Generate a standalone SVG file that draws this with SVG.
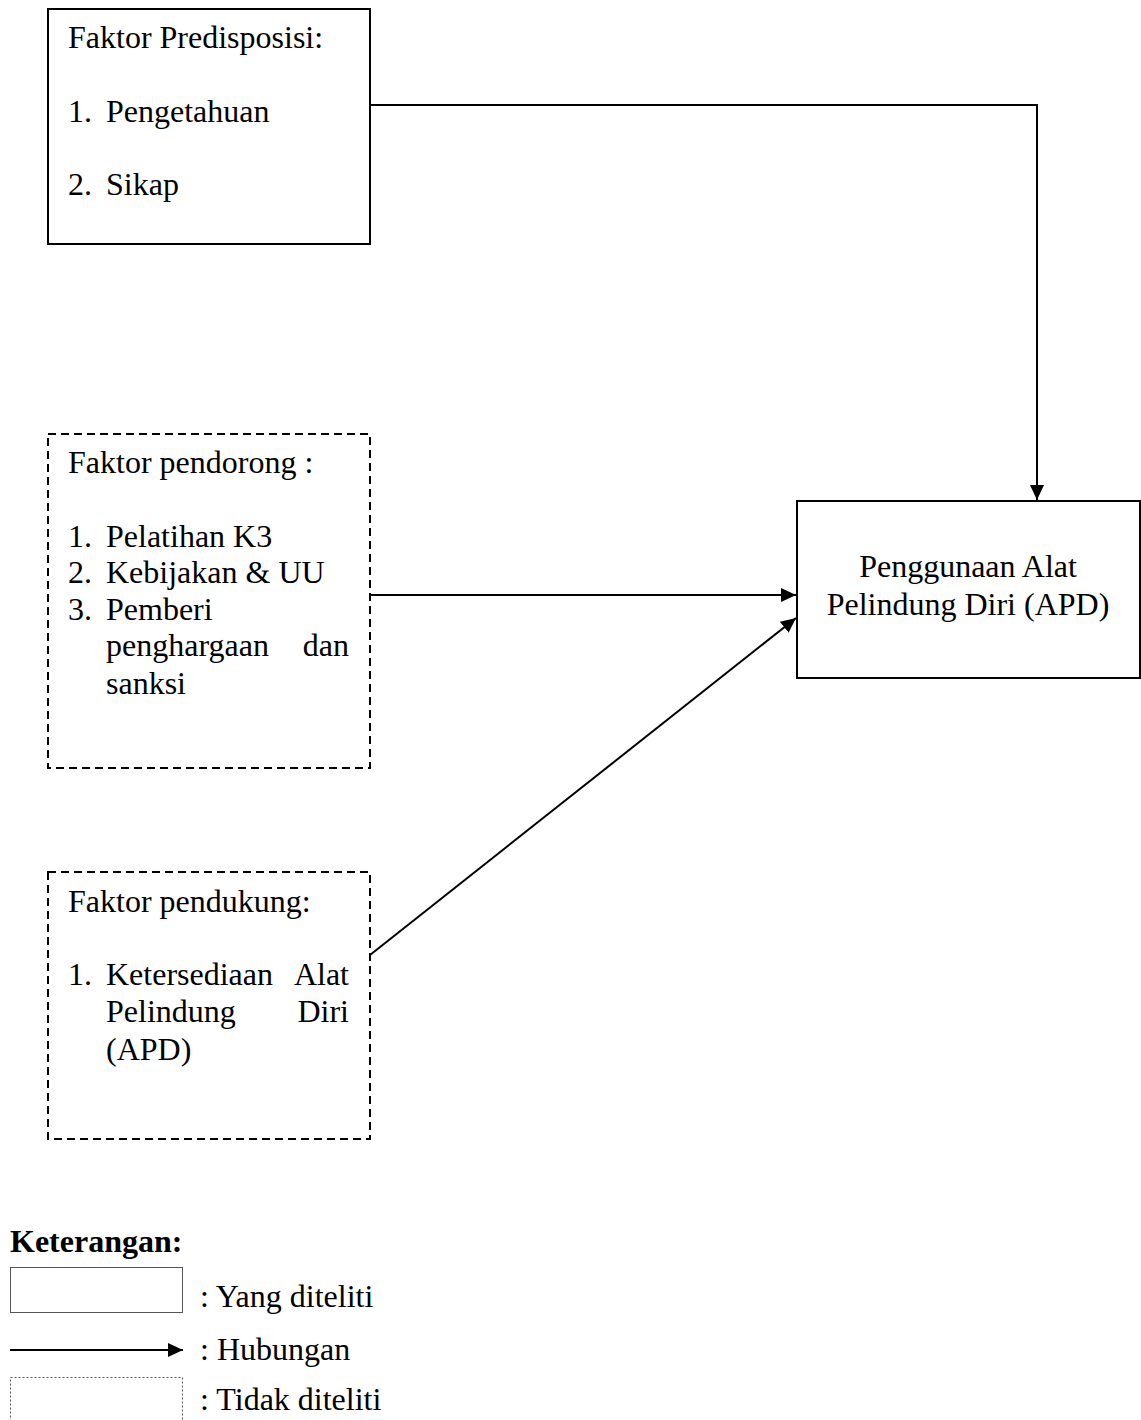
<svg xmlns="http://www.w3.org/2000/svg" width="1141" height="1420" viewBox="0 0 1141 1420">
<style>
text{font-family:"Liberation Serif","Times New Roman",serif;font-size:32px;fill:#000}
.solid{fill:#fff;stroke:#000;stroke-width:2}
.dash{fill:#fff;stroke:#000;stroke-width:2;stroke-dasharray:8,5}
.conn{fill:none;stroke:#000;stroke-width:2}
.end{text-anchor:end}
</style>
<defs>
<marker id="arr" markerUnits="userSpaceOnUse" markerWidth="16" markerHeight="14" refX="15" refY="7" orient="auto">
<path d="M0,0 L15,7 L0,14 z" fill="#000"/>
</marker>
</defs>
<rect width="1141" height="1420" fill="#fff"/>
<g id="node-predisposisi">
<rect class="solid" x="48" y="9" width="322" height="235"/>
<text x="68" y="48">Faktor Predisposisi:</text>
<text x="68" y="122">1.</text><text x="106" y="122">Pengetahuan</text>
<text x="68" y="195">2.</text><text x="106" y="195">Sikap</text>
</g>
<g id="node-pendorong">
<rect class="dash" x="48" y="434" width="322" height="334"/>
<text x="68" y="473">Faktor pendorong :</text>
<text x="68" y="547">1.</text><text x="106" y="547">Pelatihan K3</text>
<text x="68" y="583">2.</text><text x="106" y="583">Kebijakan &amp; UU</text>
<text x="68" y="620">3.</text><text x="106" y="620">Pemberi</text>
<text x="106" y="656">penghargaan</text><text class="end" x="349" y="656">dan</text>
<text x="106" y="694">sanksi</text>
</g>
<g id="node-pendukung">
<rect class="dash" x="48" y="872" width="322" height="267"/>
<text x="68" y="912">Faktor pendukung:</text>
<text x="68" y="985">1.</text><text x="106" y="985">Ketersediaan</text><text class="end" x="349" y="985">Alat</text>
<text x="106" y="1022">Pelindung</text><text class="end" x="349" y="1022">Diri</text>
<text x="106" y="1060">(APD)</text>
</g>
<g id="node-apd">
<rect class="solid" x="797" y="501" width="343" height="177"/>
<text x="968" y="577" text-anchor="middle">Penggunaan Alat</text>
<text x="968" y="615" text-anchor="middle">Pelindung Diri (APD)</text>
</g>
<g id="connectors">
<path class="conn" d="M370,105 H1037 V500" marker-end="url(#arr)"/>
<path class="conn" d="M370,595 H796" marker-end="url(#arr)"/>
<path class="conn" d="M370,955 L796,618" marker-end="url(#arr)"/>
</g>
<g id="legend">
<text x="10" y="1252" font-weight="bold">Keterangan:</text>
<rect x="10.5" y="1267.5" width="172" height="45" fill="#fff" stroke="#555" stroke-width="1"/>
<text x="200" y="1307">: Yang diteliti</text>
<path class="conn" d="M10,1350 H183" marker-end="url(#arr)"/>
<text x="200" y="1360">: Hubungan</text>
<rect x="10.5" y="1377.5" width="172" height="60" fill="#fff" stroke="#555" stroke-width="1" stroke-dasharray="2,2"/>
<text x="200" y="1410">: Tidak diteliti</text>
</g>
</svg>
